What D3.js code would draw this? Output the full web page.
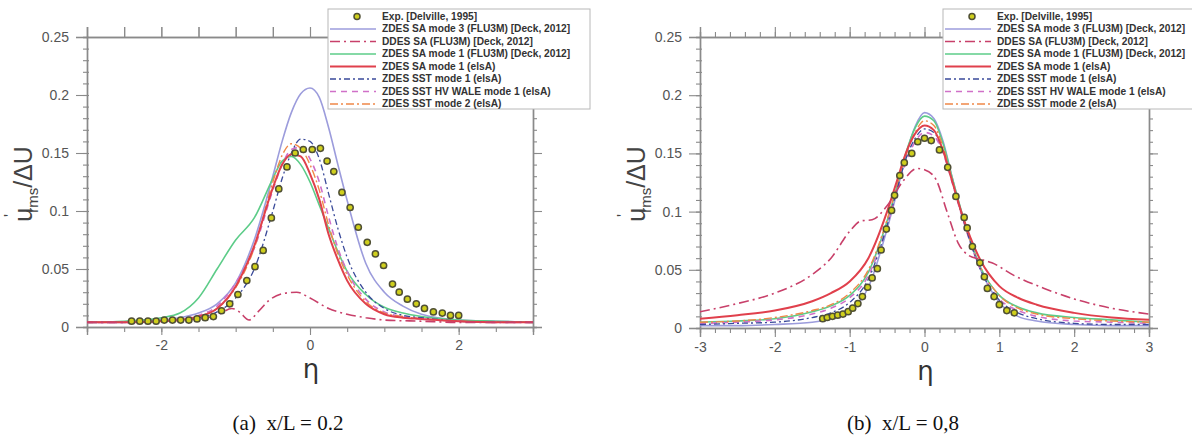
<!DOCTYPE html>
<html><head><meta charset="utf-8">
<script src="https://cdn.jsdelivr.net/npm/d3@7"></script>
<style>body{margin:0;background:#fff}svg{display:block}</style>
</head><body>
<svg id="c" width="1192" height="436"></svg>
<script>
// ---------- DATA ----------
const seriesNames = ["Exp. [Delville, 1995]","ZDES SA mode 3 (FLU3M) [Deck, 2012]","DDES SA (FLU3M) [Deck, 2012]","ZDES SA mode 1 (FLU3M) [Deck, 2012]","ZDES SA mode 1 (elsA)","ZDES SST mode 1 (elsA)","ZDES SST HV WALE mode 1 (elsA)","ZDES SST mode 2 (elsA)"];
const yTicks = [0,0.05,0.1,0.15,0.2,0.25];
const xTicksA = [-2,0,2];
const xTicksB = [-3,-2,-1,0,1,2,3];

// panel (a) x/L = 0.2
const expEtaA = [-2.4,-2.29,-2.18,-2.07,-1.96,-1.85,-1.74,-1.63,-1.52,-1.41,-1.30,-1.19,-1.08,-0.97,-0.85,-0.74,-0.63,-0.52,-0.42,-0.31,-0.20,-0.09,0.03,0.14,0.23,0.32,0.43,0.54,0.65,0.77,0.88,0.99,1.11,1.20,1.31,1.43,1.54,1.66,1.78,1.89,2.0];
const expValA = [0.005,0.005,0.005,0.005,0.006,0.006,0.006,0.006,0.007,0.008,0.009,0.014,0.020,0.028,0.040,0.052,0.066,0.094,0.119,0.138,0.150,0.153,0.153,0.154,0.143,0.134,0.116,0.103,0.086,0.073,0.063,0.053,0.037,0.030,0.024,0.020,0.016,0.013,0.012,0.010,0.010];
const etaA = [-3,-2.5,-2,-1.75,-1.5,-1.25,-1,-0.75,-0.5,-0.375,-0.25,-0.125,0,0.125,0.25,0.375,0.5,0.75,1,1.25,1.5,2,2.5,3];
const saMode3A   = [0.004,0.004,0.006,0.008,0.012,0.020,0.038,0.075,0.130,0.160,0.185,0.201,0.206,0.198,0.172,0.140,0.109,0.055,0.030,0.018,0.011,0.006,0.005,0.004];
const saMode1FA  = [0.004,0.005,0.008,0.012,0.025,0.050,0.075,0.094,0.128,0.143,0.147,0.140,0.125,0.105,0.085,0.065,0.048,0.028,0.017,0.012,0.009,0.006,0.005,0.004];
const saMode1EA  = [0.004,0.004,0.005,0.006,0.009,0.016,0.035,0.070,0.120,0.140,0.149,0.147,0.132,0.110,0.080,0.058,0.040,0.020,0.011,0.008,0.007,0.005,0.004,0.004];
const sstMode1A  = [0.004,0.004,0.005,0.006,0.008,0.013,0.025,0.050,0.100,0.128,0.150,0.162,0.160,0.145,0.115,0.085,0.060,0.030,0.016,0.010,0.008,0.005,0.004,0.004];
const sstWaleA   = [0.004,0.004,0.005,0.007,0.010,0.018,0.038,0.068,0.118,0.140,0.153,0.155,0.145,0.125,0.095,0.068,0.048,0.024,0.013,0.009,0.007,0.005,0.004,0.004];
const sstMode2A  = [0.004,0.004,0.005,0.006,0.009,0.016,0.034,0.068,0.125,0.148,0.158,0.154,0.140,0.118,0.088,0.063,0.045,0.022,0.012,0.009,0.007,0.005,0.004,0.004];
const ddesEtaA = [-3,-2.5,-2,-1.5,-1.25,-1.05,-0.95,-0.82,-0.7,-0.55,-0.35,-0.18,0,0.25,0.5,0.75,1,1.5,2,2.5,3];
const ddesValA = [0.004,0.004,0.005,0.007,0.010,0.016,0.013,0.006,0.013,0.023,0.029,0.030,0.025,0.016,0.011,0.008,0.006,0.005,0.004,0.004,0.004];

// panel (b) x/L = 0.8
const expEtaB = [-1.36,-1.30,-1.23,-1.16,-1.09,-1.02,-0.96,-0.89,-0.83,-0.76,-0.70,-0.63,-0.58,-0.51,-0.44,-0.40,-0.33,-0.27,-0.17,-0.09,0,0.09,0.20,0.31,0.42,0.53,0.57,0.64,0.74,0.80,0.84,0.93,1.0,1.1,1.2];
const expValB = [0.008,0.009,0.010,0.011,0.012,0.014,0.017,0.021,0.027,0.035,0.043,0.051,0.067,0.085,0.101,0.114,0.131,0.142,0.150,0.160,0.163,0.161,0.153,0.138,0.113,0.095,0.086,0.070,0.056,0.044,0.034,0.027,0.020,0.015,0.013];
const etaB = [-3,-2.5,-2,-1.5,-1.25,-1,-0.75,-0.5,-0.375,-0.25,-0.125,0,0.125,0.25,0.375,0.5,0.75,1,1.25,1.5,2,2.5,3];
const saMode3B   = [0.002,0.002,0.003,0.005,0.008,0.014,0.035,0.085,0.115,0.148,0.173,0.185,0.180,0.160,0.128,0.098,0.050,0.022,0.010,0.006,0.003,0.002,0.002];
const saMode1FB  = [0.005,0.006,0.008,0.014,0.019,0.028,0.048,0.092,0.120,0.150,0.172,0.182,0.178,0.158,0.128,0.099,0.052,0.028,0.018,0.013,0.009,0.007,0.005];
const saMode1EB  = [0.008,0.011,0.015,0.023,0.030,0.040,0.060,0.100,0.125,0.150,0.167,0.174,0.170,0.152,0.125,0.098,0.058,0.036,0.026,0.020,0.013,0.009,0.007];
const sstMode1B  = [0.003,0.004,0.005,0.009,0.013,0.022,0.042,0.088,0.117,0.145,0.163,0.171,0.168,0.152,0.125,0.097,0.050,0.024,0.013,0.008,0.004,0.003,0.003];
const sstWaleB   = [0.004,0.005,0.007,0.012,0.017,0.026,0.045,0.088,0.115,0.142,0.160,0.168,0.165,0.150,0.124,0.096,0.050,0.025,0.015,0.010,0.006,0.005,0.004];
const sstMode2B  = [0.005,0.006,0.009,0.015,0.020,0.030,0.050,0.093,0.120,0.148,0.168,0.178,0.174,0.155,0.126,0.097,0.052,0.028,0.017,0.012,0.008,0.006,0.005];
const ddesEtaB = [-3,-2.5,-2,-1.5,-1.25,-1,-0.85,-0.7,-0.5,-0.3,-0.1,0,0.15,0.3,0.45,0.6,0.75,0.9,1.2,1.6,2,2.5,3];
const ddesValB = [0.014,0.021,0.030,0.046,0.060,0.083,0.092,0.093,0.105,0.125,0.137,0.136,0.128,0.100,0.073,0.062,0.059,0.056,0.045,0.034,0.025,0.017,0.012];

// ---------- STYLES ----------
const styles = [
  null,
  {color:"#9c9cdc", dash:null, w:1.6},
  {color:"#c8406a", dash:"10,4,2,4", w:1.6},
  {color:"#5ccc88", dash:null, w:1.6},
  {color:"#e0404c", dash:null, w:2.0},
  {color:"#3a4a9a", dash:"6,3,2,3", w:1.3},
  {color:"#d070c8", dash:"6,5", w:1.6},
  {color:"#f08848", dash:"8,3,2,3", w:1.4}
];
const expFill = "#cfcf1c", expStroke = "#4f4f34";
const axisColor = "#8a8a8a", labelColor = "#555";

const svg = d3.select("#c");

function panel(cfg){
  const x = d3.scaleLinear().domain([-3,3]).range([cfg.x0,cfg.x1]);
  const y = d3.scaleLinear().domain([0,0.25]).range([cfg.y0,cfg.y1]);
  const g = svg.append("g");
  const clipId = "clip"+cfg.id;
  svg.append("clipPath").attr("id",clipId).append("rect")
    .attr("x",cfg.x0).attr("y",cfg.y1).attr("width",cfg.x1-cfg.x0).attr("height",cfg.y0-cfg.y1);

  const minorY = d3.range(0,0.2501,0.01);
  const styleAxis = sel => { sel.select(".domain").attr("stroke",axisColor).attr("stroke-width",1.4);
    sel.selectAll(".tick line").attr("stroke",axisColor).attr("stroke-width",1.1);
    sel.selectAll("text").attr("fill",labelColor).style("font-family","Liberation Sans, Arial, sans-serif").style("font-size","14px"); };

  // left axis
  g.append("g").attr("transform",`translate(${cfg.x0},0)`).call(d3.axisLeft(y).tickValues(minorY).tickSize(4).tickFormat("")).call(styleAxis)
    .selectAll(".tick line").attr("x2",-4).attr("x1",2);
  g.append("g").attr("transform",`translate(${cfg.x0},0)`).call(d3.axisLeft(y).tickValues(yTicks).tickSize(11).tickPadding(7).tickFormat(d=>d===0?"0":d3.format("")(+d.toFixed(2)))).call(styleAxis);
  // right axis
  g.append("g").attr("transform",`translate(${cfg.x1},0)`).call(d3.axisRight(y).tickValues(minorY).tickSize(4).tickFormat("")).call(styleAxis);
  g.append("g").attr("transform",`translate(${cfg.x1},0)`).call(d3.axisRight(y).tickValues(yTicks).tickSize(9).tickFormat("")).call(styleAxis);
  // bottom axis
  g.append("g").attr("transform",`translate(0,${cfg.y0})`).call(d3.axisBottom(x).tickValues(cfg.minorX).tickSize(5).tickFormat("")).call(styleAxis);
  g.append("g").attr("transform",`translate(0,${cfg.y0})`).call(d3.axisBottom(x).tickValues(cfg.xTicks).tickSize(cfg.majorXLen).tickPadding(5).tickFormat(d=>d)).call(styleAxis);
  // top axis
  g.append("g").attr("transform",`translate(0,${cfg.y1})`).call(d3.axisTop(x).tickValues(cfg.minorX).tickSize(cfg.topMinorLen).tickFormat("")).call(styleAxis);
  g.append("g").attr("transform",`translate(0,${cfg.y1})`).call(d3.axisTop(x).tickValues(cfg.topMajor).tickSize(10).tickFormat("")).call(styleAxis);

  // curves
  const cg = g.append("g").attr("clip-path",`url(#${clipId})`);
  const line = d3.line().x(d=>x(d[0])).y(d=>y(d[1])).curve(d3.curveMonotoneX);
  cfg.curves.forEach(c=>{
    const st = styles[c.s];
    cg.append("path").datum(d3.zip(c.eta,c.val)).attr("d",line)
      .attr("fill","none").attr("stroke",st.color).attr("stroke-width",st.w)
      .attr("stroke-dasharray",st.dash);
  });
  // exp points
  cg.selectAll("circle.exp").data(d3.zip(cfg.expEta,cfg.expVal)).join("circle")
    .attr("cx",d=>x(d[0])).attr("cy",d=>y(d[1])).attr("r",3.1)
    .attr("fill",expFill).attr("stroke",expStroke).attr("stroke-width",1.5);

  // y title
  const yt = g.append("text").attr("transform",`translate(${cfg.titleX},${cfg.titleY}) rotate(-90)`)
    .attr("text-anchor","middle").attr("fill","#444")
    .style("font-family","Liberation Sans, Arial, sans-serif").style("font-size","25px");
  yt.append("tspan").text("u");
  yt.append("tspan").attr("dy",-16).attr("dx",-9).style("font-size","16px").text("'");
  yt.append("tspan").attr("dy",22).attr("dx",1).style("font-size","15px").text("rms");
  yt.append("tspan").attr("dy",-6).text("/ΔU");

  // x title
  g.append("text").attr("x",x(0)+1).attr("y",cfg.etaY).attr("text-anchor","middle").attr("fill","#333")
    .style("font-family","DejaVu Sans, sans-serif").style("font-size","26px").text("η");

  // caption
  g.append("text").attr("x",cfg.capX).attr("y",430).attr("text-anchor","middle").attr("fill","#111")
    .style("font-family","Liberation Serif, Times New Roman, serif").style("font-size","21px")
    .attr("xml:space","preserve").text(cfg.caption);

  // legend
  const lg = g.append("g");
  lg.append("rect").attr("x",cfg.lx).attr("y",9).attr("width",cfg.lw).attr("height",100)
    .attr("fill","#fff").attr("stroke","#b8b8b8").attr("stroke-width",1);
  const ly = d3.scalePoint().domain(seriesNames).range([16.5,104]);
  seriesNames.forEach((n,i)=>{
    const yy = ly(n);
    if(i===0){
      lg.append("circle").attr("cx",cfg.lx+29).attr("cy",yy).attr("r",3).attr("fill",expFill).attr("stroke",expStroke).attr("stroke-width",1.5);
    } else {
      const st = styles[i];
      lg.append("line").attr("x1",cfg.lx+2).attr("x2",cfg.lx+48).attr("y1",yy).attr("y2",yy)
        .attr("stroke",st.color).attr("stroke-width",st.w).attr("stroke-dasharray",st.dash);
    }
    lg.append("text").attr("x",cfg.lx+54).attr("y",yy+3.4).attr("fill","#333")
      .style("font-family","Liberation Sans, Arial, sans-serif").style("font-size","10.2px").style("font-weight","bold").text(n);
  });
}

panel({id:"a", x0:87, x1:533, y0:327, y1:37, xTicks:xTicksA, minorX:d3.range(-3,3.01,0.5), topMajor:d3.range(-3,3.01,0.5), majorXLen:8, topMinorLen:10,
  expEta:expEtaA, expVal:expValA,
  curves:[{s:1,eta:etaA,val:saMode3A},{s:3,eta:etaA,val:saMode1FA},{s:6,eta:etaA,val:sstWaleA},{s:7,eta:etaA,val:sstMode2A},{s:5,eta:etaA,val:sstMode1A},{s:4,eta:etaA,val:saMode1EA},{s:2,eta:ddesEtaA,val:ddesValA}],
  titleX:32, titleY:184, etaY:378, capX:288, caption:"(a)  x/L = 0.2", lx:328, lw:262});

panel({id:"b", x0:700, x1:1149, y0:328, y1:37, xTicks:xTicksB, minorX:d3.range(-3,3.01,0.2), topMajor:xTicksB, majorXLen:9, topMinorLen:5,
  expEta:expEtaB, expVal:expValB,
  curves:[{s:1,eta:etaB,val:saMode3B},{s:3,eta:etaB,val:saMode1FB},{s:6,eta:etaB,val:sstWaleB},{s:7,eta:etaB,val:sstMode2B},{s:5,eta:etaB,val:sstMode1B},{s:4,eta:etaB,val:saMode1EB},{s:2,eta:ddesEtaB,val:ddesValB}],
  titleX:645, titleY:184, etaY:380, capX:903, caption:"(b)  x/L = 0,8", lx:943, lw:252});
</script>
</body></html>
